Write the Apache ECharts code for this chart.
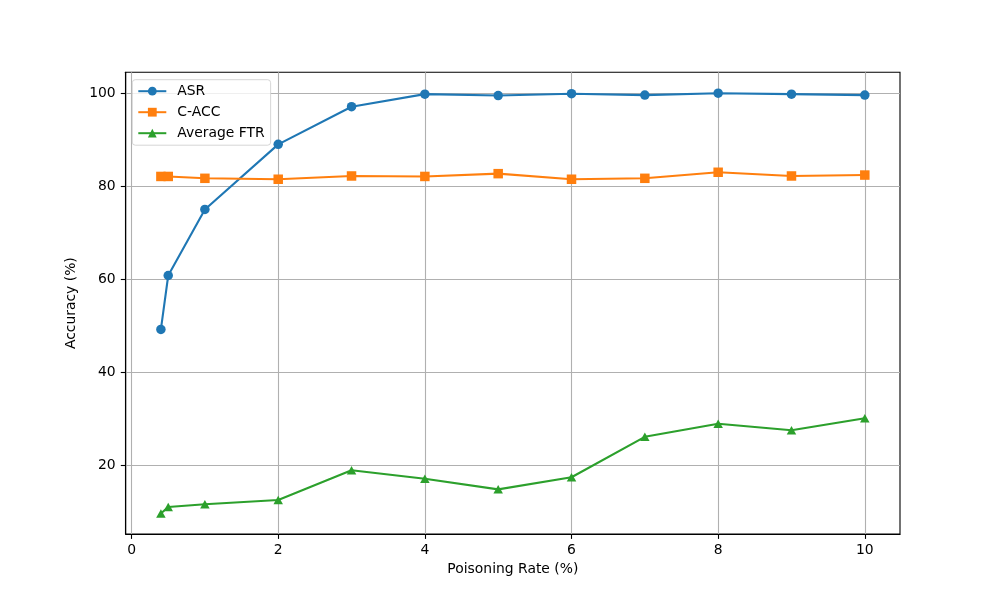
<!DOCTYPE html>
<html>
<head>
<meta charset="utf-8">
<title>Poisoning Rate vs Accuracy</title>
<script src="https://cdn.jsdelivr.net/npm/echarts@6/dist/echarts.min.js"></script>
<style>
  html, body { margin: 0; padding: 0; background: #fff; }
  #main { width: 1000px; height: 600px; }
</style>
</head>
<body>
<div id="main"></div>
<script>
// poisoning rates (%)
var rates = [0.4, 0.5, 1, 2, 3, 4, 5, 6, 7, 8, 9, 10];
// accuracy values (%)
var asr = [49.2, 60.8, 75.0, 89.0, 97.1, 99.8, 99.5, 99.9, 99.6, 100.0, 99.8, 99.6];
var cacc = [82.1, 82.1, 81.7, 81.5, 82.2, 82.1, 82.7, 81.5, 81.7, 83.0, 82.2, 82.4];
var ftr = [9.6, 11.0, 11.6, 12.5, 18.9, 17.1, 14.8, 17.4, 26.1, 28.9, 27.5, 30.1];
// tick labels
var xTicks = [0, 2, 4, 6, 8, 10];
var yTicks = [20, 40, 60, 80, 100];

var font = 'DejaVu Sans';
var chart = echarts.init(document.getElementById('main'), null, { renderer: 'canvas' });

function pairs(ys) {
    return rates.map(function (x, i) { return [x, ys[i]]; });
}

var axisCommon = {
    axisLine: { show: true, onZero: false, lineStyle: { color: '#000', width: 1.1 } },
    axisTick: { show: true, length: 4.9, lineStyle: { color: '#000', width: 1.1 } },
    splitLine: { show: true, lineStyle: { color: '#b0b0b0', width: 1.1 } },
    nameLocation: 'middle',
    nameTextStyle: { fontFamily: font, fontSize: 13.9, color: '#000' }
};

var option = {
    backgroundColor: '#fff',
    animation: false,
    grid: { left: 125.7, right: 100, top: 72.3, bottom: 66, containLabel: false,
            show: true, borderColor: '#000', borderWidth: 1.1 },
    legend: {
        orient: 'vertical',
        left: 132.3,
        top: 79.7,
        padding: [4.5, 6, 5, 5],
        itemGap: 7,
        itemWidth: 28,
        itemHeight: 11,
        backgroundColor: 'rgba(255,255,255,0.8)',
        borderColor: 'rgba(204,204,204,0.8)',
        borderWidth: 1,
        borderRadius: 3,
        textStyle: { fontFamily: font, fontSize: 13.9, color: '#000', padding: [0, 0, 0, 6] },
        data: ['ASR', 'C-ACC', 'Average FTR']
    },
    xAxis: Object.assign({}, axisCommon, {
        type: 'value',
        min: -0.08,
        max: 10.48,
        name: 'Poisoning Rate (%)',
        nameGap: 28.5,
        axisTick: Object.assign({}, axisCommon.axisTick, { customValues: xTicks }),
        axisLabel: { customValues: xTicks, margin: 9.5, fontFamily: font, fontSize: 13.9, color: '#000' }
    }),
    yAxis: Object.assign({}, axisCommon, {
        type: 'value',
        min: 5.2,
        max: 104.5,
        name: 'Accuracy (%)',
        nameGap: 41,
        axisTick: Object.assign({}, axisCommon.axisTick, { customValues: yTicks }),
        axisLabel: { customValues: yTicks, margin: 10, fontFamily: font, fontSize: 13.9, color: '#000' }
    }),
    series: [
        {
            name: 'ASR', type: 'line', data: pairs(asr),
            symbol: 'circle', symbolSize: 9.5,
            lineStyle: { color: '#1f77b4', width: 2.1 },
            itemStyle: { color: '#1f77b4' }
        },
        {
            name: 'C-ACC', type: 'line', data: pairs(cacc),
            symbol: 'rect', symbolSize: 9.5,
            lineStyle: { color: '#ff7f0e', width: 2.1 },
            itemStyle: { color: '#ff7f0e' }
        },
        {
            name: 'Average FTR', type: 'line', data: pairs(ftr),
            symbol: 'triangle', symbolSize: [9.5, 8.5],
            lineStyle: { color: '#2ca02c', width: 2.1 },
            itemStyle: { color: '#2ca02c' }
        }
    ]
};

chart.setOption(option);
</script>
</body>
</html>
